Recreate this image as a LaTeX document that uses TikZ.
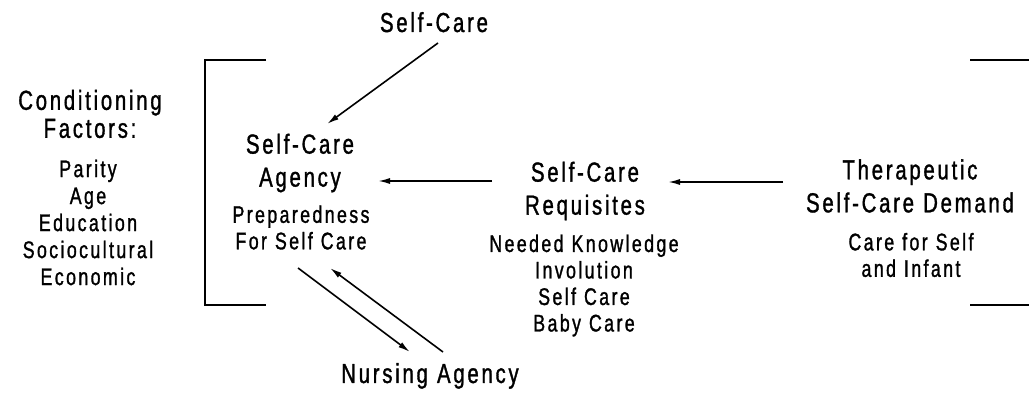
\documentclass[tikz,border=0pt]{standalone}
\usepackage{fontspec}
\setmainfont{Liberation Sans}[FakeStretch=0.74,LetterSpace=10,FakeBold=1.2]
\usetikzlibrary{arrows.meta}
\tikzset{
  big/.style={font=\fontsize{27.5}{33}\selectfont, align=center, inner sep=0pt, text width=280pt},
  small/.style={font=\fontsize{24}{26.5}\selectfont, align=center, inner sep=0pt, text width=280pt},
  arr/.style={line width=1.6pt, -{Latex[length=12pt,width=6pt]}},
  brk/.style={line width=1.8pt},
}
\begin{document}
\begin{tikzpicture}[x=1pt,y=-1pt]
\useasboundingbox (0,0) rectangle (1029,395);
% nodes
\node[big, anchor=base] (selfcare) at (434,32) {Self-Care};
\node[big, font=\fontsize{27.5}{28}\selectfont] (cond) at (90,114) {Conditioning\\Factors:};
\node[small, font=\fontsize{24}{27}\selectfont] (factors) at (88,222.5) {Parity\\Age\\Education\\Sociocultural\\Economic};
\node[big] (agency) at (300,163) {Self-Care\\Agency};
\node[small] (prep) at (301,227.5) {Preparedness\\For Self Care};
\node[big] (req) at (585,191) {Self-Care\\Requisites};
\node[small] (reqlist) at (584,285.5) {Needed Knowledge\\Involution\\Self Care\\Baby Care};
\node[big] (demand) at (910,186) {Therapeutic\\Self-Care Demand};
\node[small] (care) at (911,255) {Care for Self\\and Infant};
\node[big, anchor=base] (nursing) at (430,383) {Nursing Agency};
% brackets
\draw[brk] (266,60) -- (205,60) -- (205,305) -- (266,305);
\draw[brk] (970,60) -- (1029,60);
\draw[brk] (970,305) -- (1029,305);
% connectors
\draw[arr] ([shift={(4,11)}]selfcare.base) -- ([shift={(27,-39)}]agency.center);
\draw[arr] ([shift={(-93,-10)}]req.center) -- ([shift={(78,18)}]agency.center);
\draw[arr] ([shift={(-127,-4)}]demand.center) -- ([shift={(83,-9)}]req.center);
\draw[arr] ([shift={(-3,40.5)}]prep.center) -- ([shift={(-20,-31)}]nursing.base);
\draw[arr] ([shift={(13,-31)}]nursing.base) -- ([shift={(29,40.5)}]prep.center);
\end{tikzpicture}
\end{document}
